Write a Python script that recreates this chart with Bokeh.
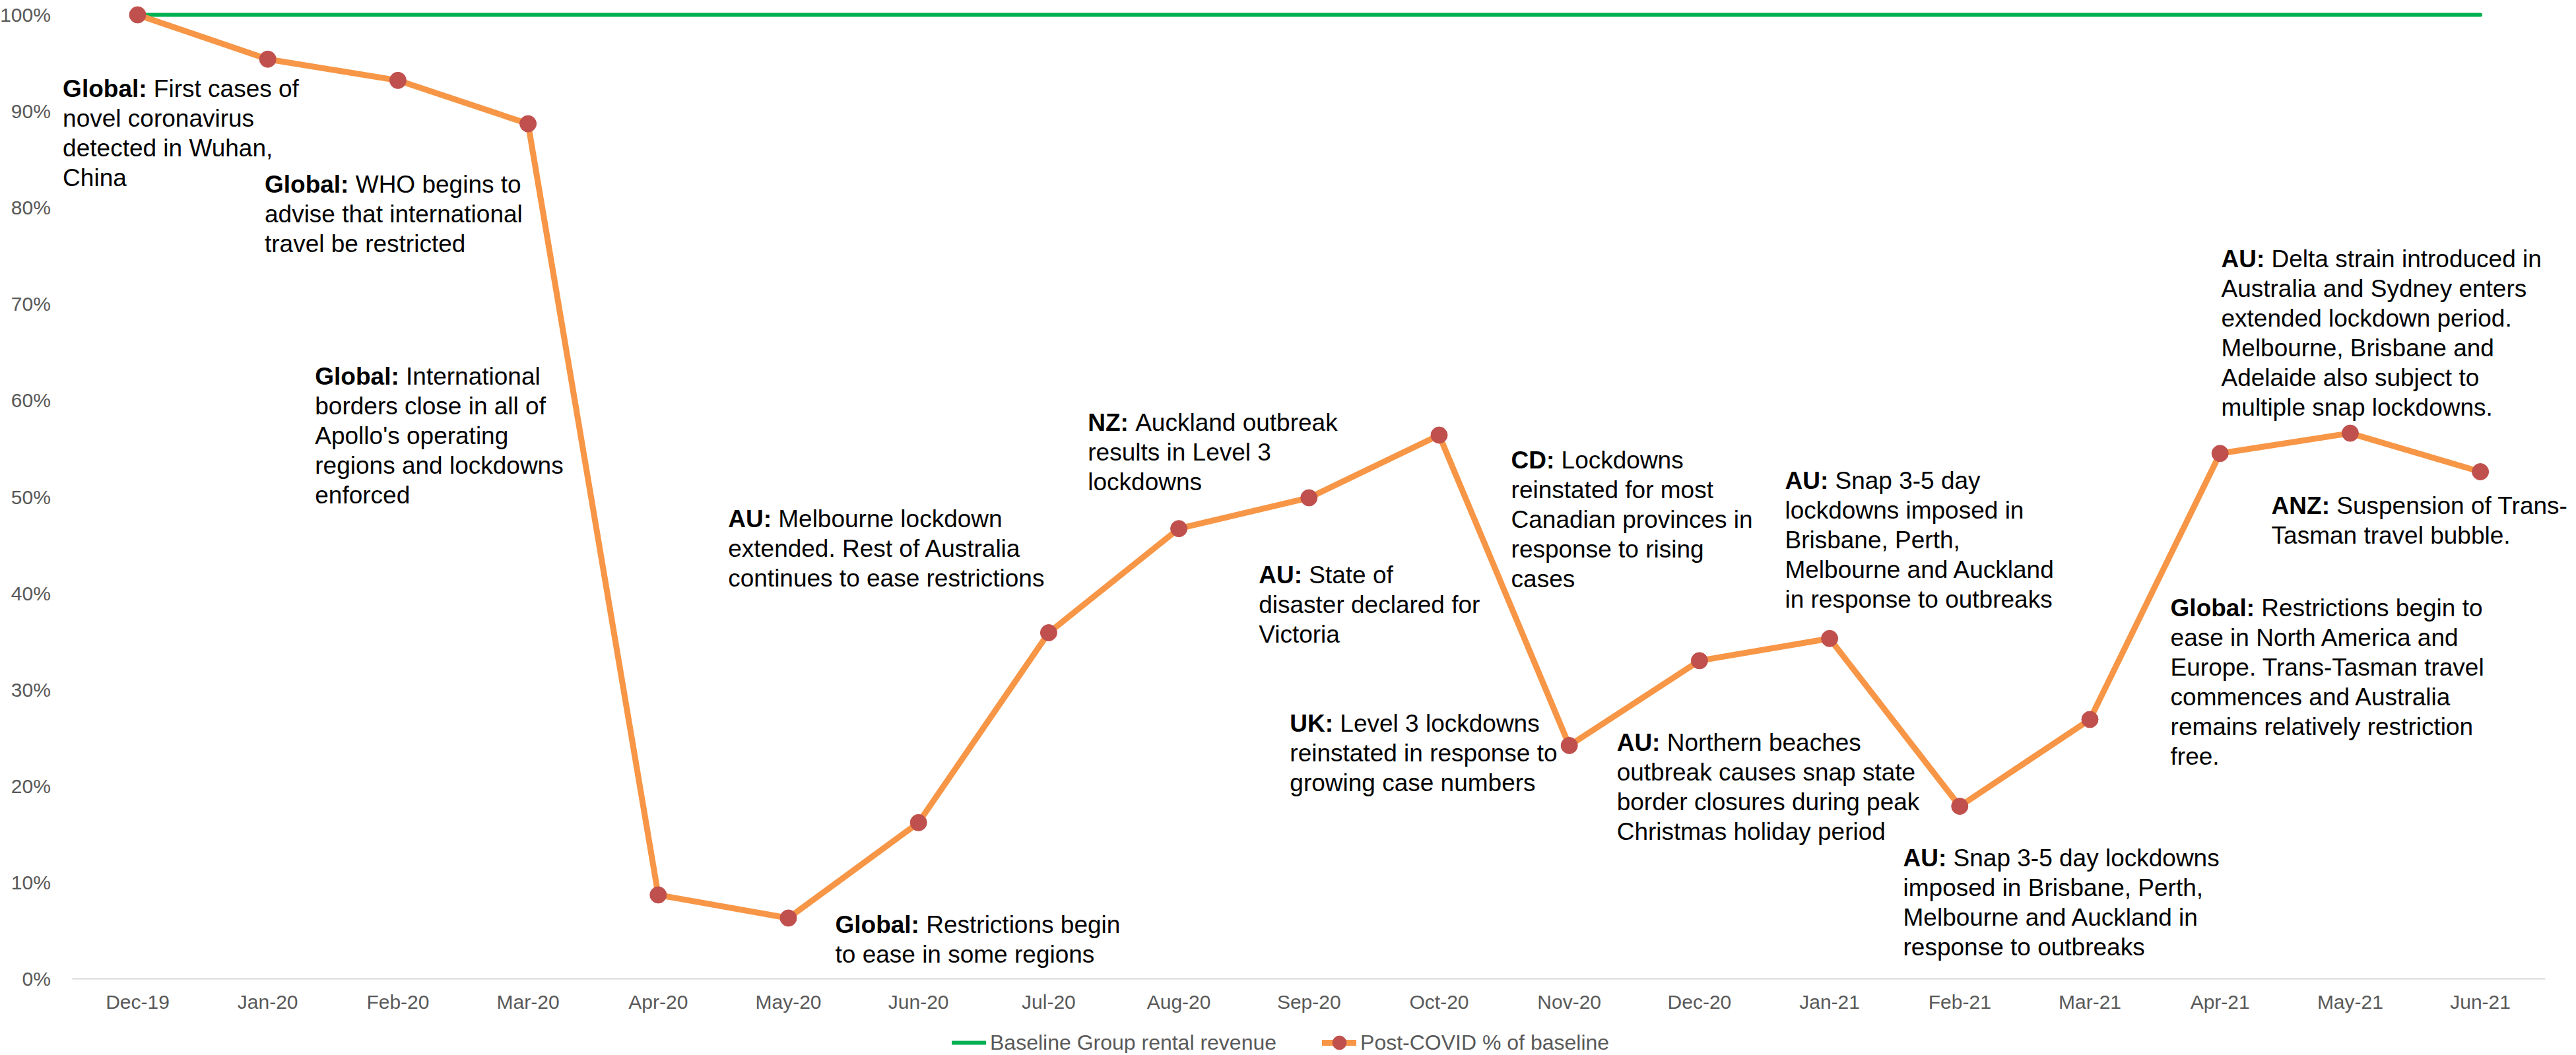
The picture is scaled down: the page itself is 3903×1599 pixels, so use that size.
from bokeh.plotting import figure
from bokeh.models import (ColumnDataSource, FixedTicker, NumeralTickFormatter,
                          Legend, LegendItem, Range1d, Label)
from bokeh.embed import file_html
from bokeh.resources import INLINE

# ---------------- data ----------------
months = ["Dec-19", "Jan-20", "Feb-20", "Mar-20", "Apr-20", "May-20", "Jun-20",
          "Jul-20", "Aug-20", "Sep-20", "Oct-20", "Nov-20", "Dec-20", "Jan-21",
          "Feb-21", "Mar-21", "Apr-21", "May-21", "Jun-21"]
baseline = [1.0, 1.0, 1.0, 1.0, 1.0, 1.0, 1.0, 1.0, 1.0, 1.0,
            1.0, 1.0, 1.0, 1.0, 1.0, 1.0, 1.0, 1.0, 1.0]
post_covid = [1.000, 0.954, 0.932, 0.887, 0.087, 0.063, 0.162, 0.359, 0.467, 0.499,
              0.564, 0.242, 0.330, 0.353, 0.179, 0.269, 0.545, 0.566, 0.526]
y_ticks = [0.0, 0.1, 0.2, 0.3, 0.4, 0.5, 0.6, 0.7, 0.8, 0.9, 1.0]

# annotations: anchor (category index, value) of the first line, bold head, lines
annotations = [
    (-0.575, 0.923, "Global:", ["First cases of", "novel coronavirus", "detected in Wuhan,", "China"]),
    (0.976, 0.824, "Global:", ["WHO begins to", "advise that international", "travel be restricted"]),
    (1.363, 0.625, "Global:", ["International", "borders close in all of", "Apollo's operating",
                               "regions and lockdowns", "enforced"]),
    (4.537, 0.477, "AU:", ["Melbourne lockdown", "extended. Rest of Australia",
                           "continues to ease restrictions"]),
    (5.360, 0.056, "Global:", ["Restrictions begin", "to ease in some regions"]),
    (7.301, 0.577, "NZ:", ["Auckland outbreak", "results in Level 3", "lockdowns"]),
    (8.614, 0.419, "AU:", ["State of", "disaster declared for", "Victoria"]),
    (10.553, 0.538, "CD:", ["Lockdowns", "reinstated for most", "Canadian provinces in",
                            "response to rising", "cases"]),
    (8.853, 0.265, "UK:", ["Level 3 lockdowns", "reinstated in response to",
                           "growing case numbers"]),
    (12.657, 0.517, "AU:", ["Snap 3-5 day", "lockdowns imposed in", "Brisbane, Perth,",
                            "Melbourne and Auckland", "in response to outbreaks"]),
    (11.365, 0.245, "AU:", ["Northern beaches", "outbreak causes snap state",
                            "border closures during peak", "Christmas holiday period"]),
    (13.565, 0.125, "AU:", ["Snap 3-5 day lockdowns", "imposed in Brisbane, Perth,",
                            "Melbourne and Auckland in", "response to outbreaks"]),
    (15.619, 0.385, "Global:", ["Restrictions begin to", "ease in North America and",
                                "Europe. Trans-Tasman travel", "commences and Australia",
                                "remains relatively restriction", "free."]),
    (16.009, 0.747, "AU:", ["Delta strain introduced in", "Australia and Sydney enters",
                            "extended lockdown period.", "Melbourne, Brisbane and",
                            "Adelaide also subject to", "multiple snap lockdowns."]),
    (16.395, 0.491, "ANZ:", ["Suspension of Trans-", "Tasman travel bubble."]),
]

# ---------------- styles ----------------
GREEN = "#00B050"
ORANGE = "#F79646"
RED = "#C0504D"
GREY = "#595959"
FONT = "Liberation Sans"
ANN_SIZE = 37
LINE_GAP = 45

# Arial/Liberation Sans Bold advance widths (per 1000 em)
BOLD_W = {"G": 778, "l": 278, "o": 611, "b": 611, "a": 556, ":": 333, "A": 722,
          "U": 722, "N": 722, "Z": 611, "C": 722, "D": 722, "K": 722, " ": 278}


def bold_width(s):
    return sum(BOLD_W.get(c, 600) for c in s) * ANN_SIZE / 1000.0


xs = list(range(len(months)))

# the frame covers the whole canvas; axes are drawn at fixed locations inside it
p = figure(width=3900, height=1596, output_backend="svg", toolbar_location=None,
           x_range=Range1d(-1.0548, 18.7221), y_range=Range1d(-0.07734, 1.01506),
           min_border_left=0, min_border_right=0, min_border_top=0, min_border_bottom=0)
p.outline_line_color = None
p.grid.visible = False
p.background_fill_color = "white"
p.border_fill_color = "white"

# x axis (drawn along the 0% line, only across the category band)
p.xaxis.fixed_location = 0
p.xaxis.bounds = (-0.5, 18.5)
p.xaxis.ticker = FixedTicker(ticks=xs)
p.xaxis.major_label_overrides = {i: m for i, m in enumerate(months)}
p.xaxis.major_label_text_font = FONT
p.xaxis.major_label_text_font_size = "30px"
p.xaxis.major_label_text_color = GREY
p.xaxis.axis_line_color = "#D9D9D9"
p.xaxis.axis_line_width = 2
p.xaxis.major_tick_line_color = None
p.xaxis.minor_tick_line_color = None
p.xaxis.major_label_standoff = 12

# y axis (drawn at the left edge of the category band)
p.yaxis.fixed_location = -0.5
p.yaxis.ticker = FixedTicker(ticks=y_ticks)
p.yaxis.formatter = NumeralTickFormatter(format="0%")
p.yaxis.major_label_text_font = FONT
p.yaxis.major_label_text_font_size = "30px"
p.yaxis.major_label_text_color = GREY
p.yaxis.axis_line_color = None
p.yaxis.major_tick_line_color = None
p.yaxis.minor_tick_line_color = None
p.yaxis.major_label_standoff = 27

# series
src = ColumnDataSource(dict(x=xs, base=baseline, post=post_covid))
r_base = p.line(x="x", y="base", source=src, line_color=GREEN, line_width=6, line_cap="round")
r_post = p.line(x="x", y="post", source=src, line_color=ORANGE, line_width=9,
                line_join="round", line_cap="round")
r_mark = p.scatter(x="x", y="post", source=src, marker="circle", size=25,
                   fill_color=RED, line_color=RED)

# annotations
for ax, ay, head, lines in annotations:
    p.add_layout(Label(x=ax, y=ay, text=head, text_font=FONT,
                       text_font_size=f"{ANN_SIZE}px", text_font_style="bold",
                       text_color="black", text_align="left", text_baseline="middle"))
    for j, ln in enumerate(lines):
        p.add_layout(Label(x=ax, y=ay, text=ln,
                           x_offset=bold_width(head + " ") if j == 0 else 0.0,
                           y_offset=-j * LINE_GAP,
                           text_font=FONT, text_font_size=f"{ANN_SIZE}px",
                           text_color="black", text_align="left", text_baseline="middle"))

# legend
legend = Legend(items=[LegendItem(label="Baseline Group rental revenue", renderers=[r_base]),
                       LegendItem(label="Post-COVID % of baseline", renderers=[r_post, r_mark])],
                orientation="horizontal", location=(1442, -10),
                glyph_width=52, glyph_height=52, label_standoff=6, spacing=69,
                padding=0, margin=0, label_text_font=FONT, label_text_font_size="32px",
                label_text_color=GREY, background_fill_alpha=0, border_line_color=None)
p.add_layout(legend)

open("out.html", "w").write(file_html(p, INLINE))
